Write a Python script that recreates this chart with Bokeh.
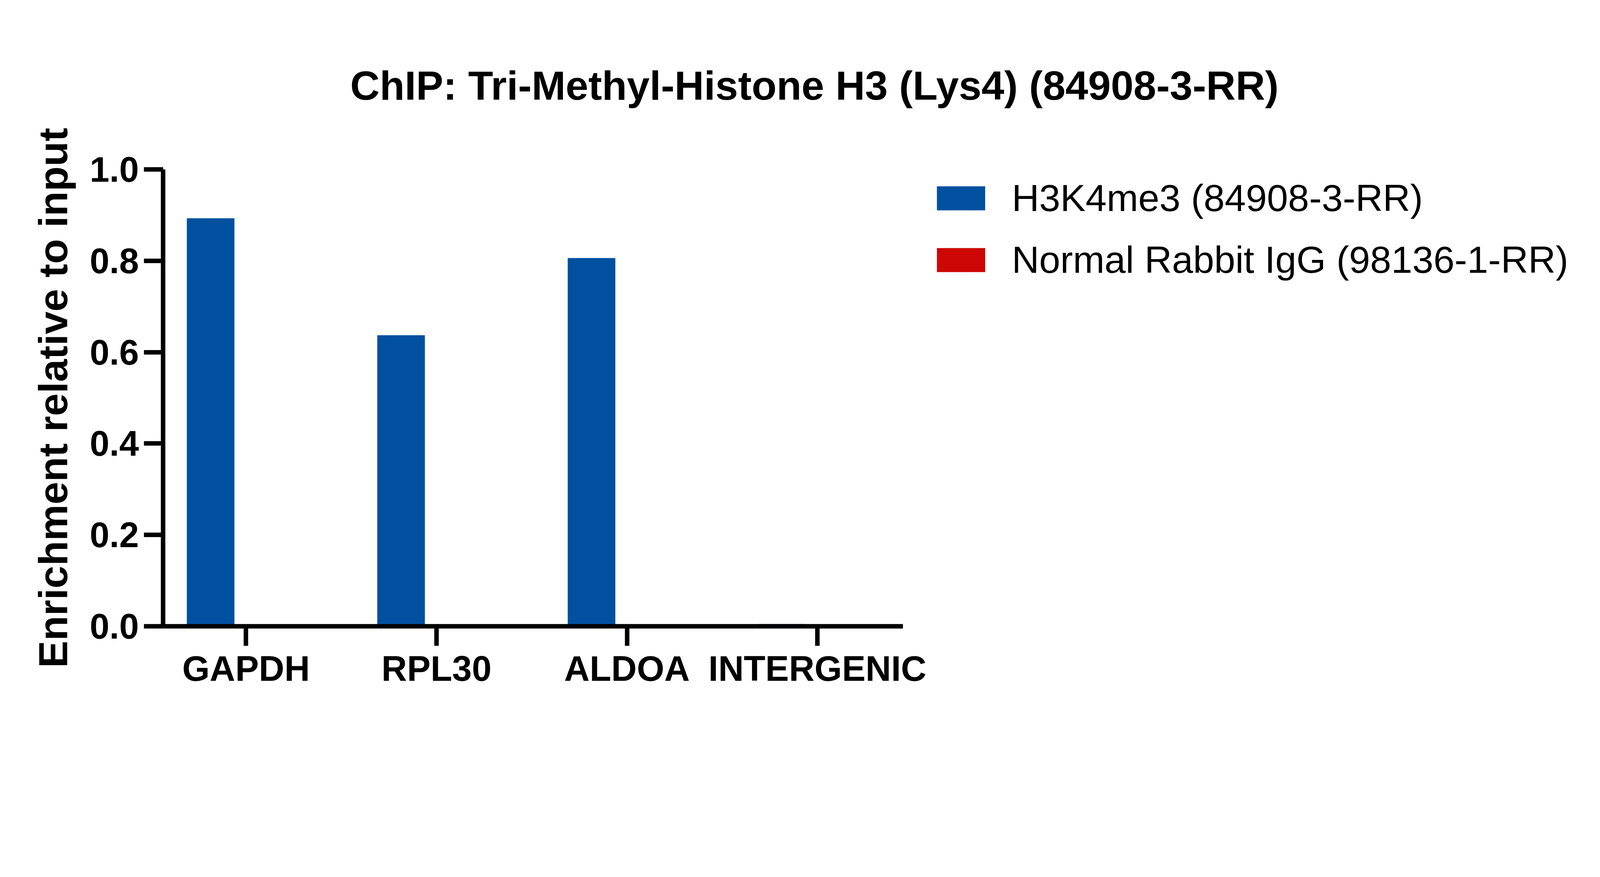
from bokeh.plotting import figure
from bokeh.models import (Range1d, FixedTicker, NumeralTickFormatter, Legend, LegendItem,
                          ColumnDataSource, Title)
from bokeh.transform import dodge
from bokeh.embed import file_html
from bokeh.resources import INLINE

# ---- data ----
categories = ["GAPDH", "RPL30", "ALDOA", "INTERGENIC"]
h3k4me3 = [0.893, 0.637, 0.806, 0.005]
igg = [0.0, 0.0, 0.0, 0.0]
series_names = ["H3K4me3 (84908-3-RR)", "Normal Rabbit IgG (98136-1-RR)"]
y_ticks = [0.0, 0.2, 0.4, 0.6, 0.8, 1.0]
title_text = "ChIP: Tri-Methyl-Histone H3 (Lys4) (84908-3-RR)"
y_label = "Enrichment relative to input"

BLUE = "#0050A0"
RED = "#CD0606"
FONT = "Liberation Sans"

K = 0.823  # reference-pixel -> CSS-pixel


def px(v):
    return round(v * K, 1)


def ipx(v):
    return int(round(v * K))


xs = list(range(len(categories)))
src = ColumnDataSource(dict(x=xs, cat=categories, h3=h3k4me3, igg=igg))

p = figure(frame_width=ipx(2301), frame_height=ipx(1421),
           output_backend="svg", toolbar_location=None,
           x_range=Range1d(-0.4356, 3.449), y_range=Range1d(0, 1.0),
           min_border_left=ipx(516) - 8, min_border_right=1700,
           min_border_top=0, min_border_bottom=ipx(280))
p.background_fill_color = "white"
p.border_fill_color = "white"
p.outline_line_color = None
p.xgrid.visible = False
p.ygrid.visible = False

r1 = p.vbar(x=dodge("x", -0.186, range=p.x_range), top="h3", width=0.25, source=src,
            fill_color=BLUE, line_color=None)
r2 = p.vbar(x=dodge("x", 0.186, range=p.x_range), top="igg", width=0.25, source=src,
            fill_color=RED, line_color=None)

# legend swatches: hidden renderers, drawn only as legend keys
l1 = p.line(x="x", y="h3", source=src, line_color=BLUE, line_width=px(75),
            line_cap="butt", visible=False)
l2 = p.line(x="x", y="igg", source=src, line_color=RED, line_width=px(75),
            line_cap="butt", visible=False)

# title: its panel fills the whole space above the frame
title_size = px(127)
th = 1.117 * title_size
title_standoff = round(px(535) - 8 - 2 - th, 1)
t = Title(text=title_text, align="left",
          offset=px(1103) - px(516) - 4, standoff=title_standoff,
          text_font=FONT, text_font_style="bold", text_font_size=f"{title_size}px",
          text_color="black")
p.title = t

# axes
xa = p.below[0]
ya = p.left[0]
for ax in (xa, ya):
    ax.axis_line_width = px(14)
    ax.axis_line_color = "black"
    ax.major_tick_line_width = px(14)
    ax.major_tick_line_color = "black"
    ax.major_tick_in = 0
    ax.minor_tick_line_color = None
    ax.major_label_text_font = FONT
    ax.major_label_text_font_style = "bold"
    ax.major_label_text_font_size = f"{px(110)}px"
    ax.major_label_text_color = "black"

xa.ticker = FixedTicker(ticks=xs)
xa.major_label_overrides = {i: c for i, c in enumerate(categories)}
xa.major_tick_out = ipx(61)
xa.major_label_standoff = 7

ya.ticker = FixedTicker(ticks=y_ticks)
ya.formatter = NumeralTickFormatter(format="0.0")
ya.major_tick_out = ipx(60)
ya.major_label_standoff = ipx(16)
ya.axis_label = y_label
ya.axis_label_text_font = FONT
ya.axis_label_text_font_style = "bold"
ya.axis_label_text_font_size = f"{px(127)}px"
ya.axis_label_text_color = "black"
ya.axis_label_standoff = ipx(40)

row_h = 110
gap = ipx(190) - row_h
legend_h = 2 * row_h + gap
legend_top = px(629) - row_h / 2
legend = Legend(items=[LegendItem(label=series_names[0], renderers=[l1]),
                       LegendItem(label=series_names[1], renderers=[l2])],
                location=(px(2923) - px(2817), round(px(1956) - legend_top - legend_h, 1)),
                orientation="vertical",
                glyph_width=ipx(151), glyph_height=row_h, label_height=row_h,
                label_standoff=68, spacing=gap, padding=0, margin=0,
                border_line_color=None, background_fill_alpha=0,
                label_text_font=FONT, label_text_font_size=f"{px(118)}px",
                label_text_color="black")
p.add_layout(legend, "right")

open("out.html", "w").write(file_html(p, INLINE))
